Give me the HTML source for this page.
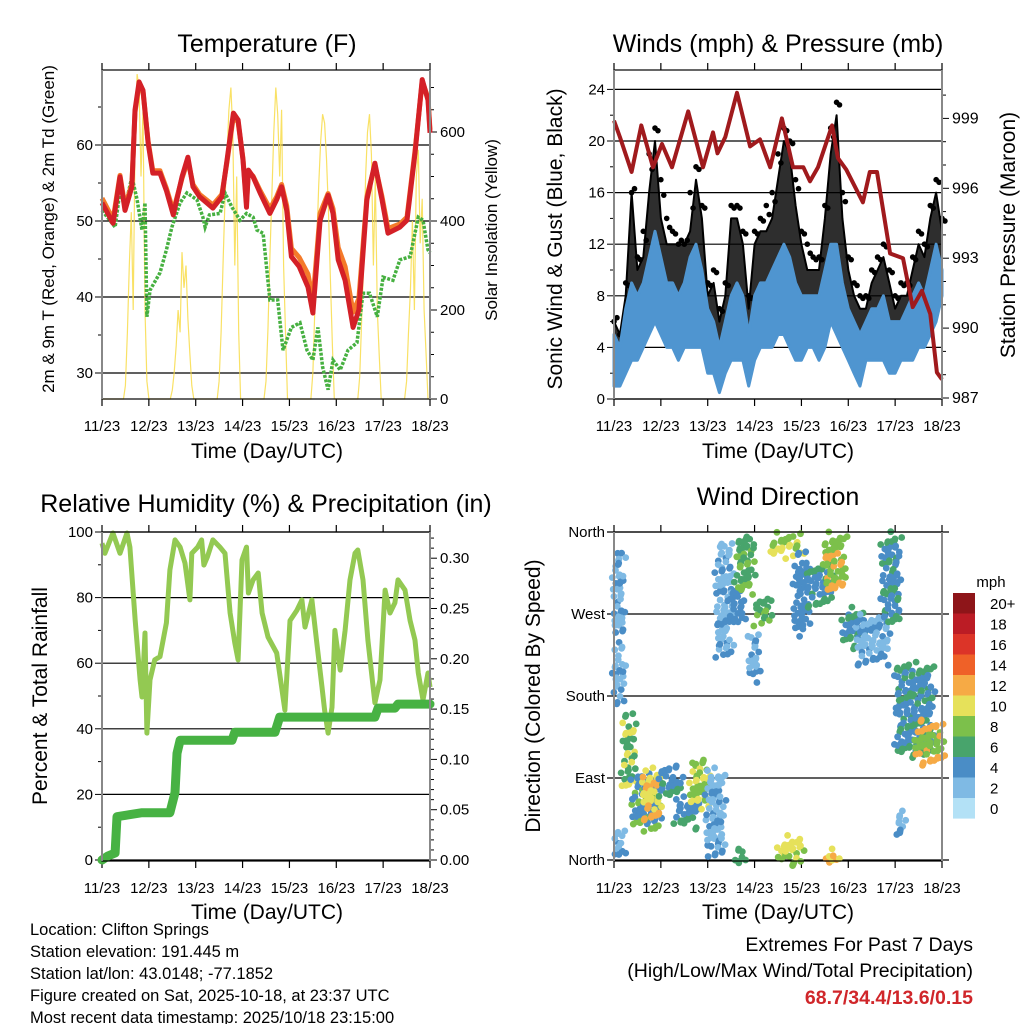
<!DOCTYPE html>
<html><head><meta charset="utf-8"><style>
html,body{margin:0;padding:0;background:#fff;}
svg{display:block;font-family:"Liberation Sans",Arial,sans-serif;}
</style></head><body>
<svg id="root" width="1024" height="1024" viewBox="0 0 1024 1024" xmlns="http://www.w3.org/2000/svg">
<rect x="0" y="0" width="1024" height="1024" fill="#fff"/>
<g font-size="25" text-anchor="middle" fill="#000">
<text x="267" y="52">Temperature (F)</text>
<text x="778" y="52">Winds (mph) &amp; Pressure (mb)</text>
<text x="266" y="512">Relative Humidity (%) &amp; Precipitation (in)</text>
<text x="778" y="505">Wind Direction</text>
</g>
<g font-size="21" text-anchor="middle">
<text x="267" y="458">Time (Day/UTC)</text>
<text x="778" y="458">Time (Day/UTC)</text>
<text x="267" y="919">Time (Day/UTC)</text>
<text x="778" y="919">Time (Day/UTC)</text>
<text transform="translate(562,239) rotate(-90)">Sonic Wind &amp; Gust (Blue, Black)</text>
<text transform="translate(1015,235) rotate(-90)">Station Pressure (Maroon)</text>
<text transform="translate(47,696) rotate(-90)">Percent &amp; Total Rainfall</text>
<text transform="translate(540,696) rotate(-90)">Direction (Colored By Speed)</text>
</g>
<g font-size="17" text-anchor="middle">
<text transform="translate(54,229) rotate(-90)">2m &amp; 9m T (Red, Orange) &amp; 2m Td (Green)</text>
<text transform="translate(497,230) rotate(-90)">Solar Insolation (Yellow)</text>
</g>
<g font-size="16.5">
<text x="30" y="935">Location: Clifton Springs</text>
<text x="30" y="957">Station elevation: 191.445 m</text>
<text x="30" y="979">Station lat/lon: 43.0148; -77.1852</text>
<text x="30" y="1001">Figure created on Sat, 2025-10-18, at 23:37 UTC</text>
<text x="30" y="1023">Most recent data timestamp: 2025/10/18 23:15:00</text>
</g>
<g font-size="19.5" text-anchor="end">
<text x="973" y="951">Extremes For Past 7 Days</text>
<text x="973" y="977">(High/Low/Max Wind/Total Precipitation)</text>
<text x="973" y="1004" fill="#d0262a" font-weight="bold">68.7/34.4/13.6/0.15</text>
</g>
</svg>
<script>
// ---------- data ----------
const dayLabels = ['11/23','12/23','13/23','14/23','15/23','16/23','17/23','18/23'];
const tHours = [0,5.7,9.2,11.8,15.3,16.9,19,21,23.6,26,29.7,33,36.5,41,44,46.6,50,56.8,61.4,64,67.3,69.7,72.2,74,75,77.4,81,86,89.5,92,94.6,97,101,105.5,108,111.7,115.8,118.3,121,124.5,128.6,131.6,135.7,139.8,143.4,146.5,152.6,156.2,160.3,164,167,168];
const t2Values = [52.4,49.7,55.8,51.4,54.5,64.6,68.3,67.2,60.3,56.3,56.3,54,50.8,55.8,58.4,54.5,53.2,51.7,53.2,58,64.2,63.3,58,51.8,56.7,55.8,53.7,51,52.8,54.5,51.4,45.3,44,41.3,37.9,50.1,53.4,51,44.9,42.2,36,38.3,52.8,57.6,52.8,48.4,49.2,50.1,58.9,68.6,65.9,61.6];
const t9Values = [53.0,50.2,56.0,51.9,54.8,64.3,68.0,67.0,60.5,56.6,56.6,54.3,51.3,55.6,58.0,54.8,53.5,52.1,53.5,57.8,63.8,63.0,58.2,52.4,56.5,55.9,54.0,51.6,53.2,54.8,52.0,46.4,45.2,43.0,39.5,51.0,53.6,51.6,46.5,44.0,38.0,39.8,53.2,57.4,53.2,49.0,49.6,50.5,59.2,68.4,66.2,62.0];
const tdHours = [0,6.7,9.2,11.8,15.3,18,20.5,22,23,24.6,29.7,33,35.8,40,43.5,48.6,51.7,52.8,55,60.5,63,66.6,70.7,74,77.4,79.4,82.5,86,90,92.7,97,101.4,105,108,110.6,113,115.8,118.3,122,126,130.6,133.7,137,141,144,149,152.6,157.8,162,164.4,167,168];
const tdValues = [51.4,49.2,54,51.8,55.8,52.8,48.8,52.4,37.4,40.9,43.2,46.2,49.2,52.4,53.7,52.8,50.5,49.2,50.8,51,53.7,51.8,50.1,51,50.5,48.8,48.4,39.6,39.6,33,36,36.6,33,31.7,36,30.8,27.8,31.7,30.4,33,34,40.5,40.5,37.4,42.6,42.2,44.9,45.3,50.5,50.1,46.2,45.8];
const solarHourly = [
 0,0,0,0,0,0,0,0,0,0,0, 0,30,150,300,420,200,600,730,700,500,650,200,40,
 0,0,0,0,0,0,0,0,0,0,0, 0,20,60,120,200,150,330,250,300,180,100,30,0,
 0,0,0,0,0,0,0,0,0,0,0, 0,40,150,300,450,550,650,700,600,300,500,150,0,
 0,0,0,0,0,0,0,0,0,0,0, 0,40,160,320,460,600,700,640,500,650,300,150,0,
 0,0,0,0,0,0,0,0,0,0,0, 0,60,200,350,480,580,640,620,540,420,270,120,0,
 0,0,0,0,0,0,0,0,0,0,0, 0,50,180,300,500,600,640,550,300,500,200,100,0,
 0,0,0,0,0,0,0,0,0,0,0, 0,40,150,250,400,200,500,560,350,450,200,100,0,0];
const presHours = [0,3,9,14,20,24.6,29.7,38,45.6,50.7,53,57,63,69.7,74.8,80,86,91.7,97,100.4,104.5,111.7,114.7,119,127.5,131,134.7,141.4,148,153,157.7,162,165.4,168];
const presValues = [998.9,998.2,996.7,998.7,996.9,997.9,996.9,999.3,996.9,998.4,997.5,998.2,1000.1,997.8,998.1,996.9,999,996.9,996.9,996.3,996.9,998.7,997.3,996.8,995.4,996.7,996.7,993.2,993,990.9,991.6,990.6,988.1,987.8];
const windLo = [1,1,2,3,3,4,5,6,5,4,4,3,4,4,4,4,2,2,0.5,2,3,3,3,1,3,4,4,4,5,5,4,3,3,4,4,3,4,6,5,4,3,2,1,3,3,3,3,2,2,3,3,3,4,4,5,6,8];
const windHi = [5,4,7,9,8,9,11,13,11,9,9,8,9,11,12,10,7,6,4,6,8,9,8,5,8,9,9,10,11,12,11,9,8,8,8,8,10,12,12,9,7,6,5,6,7,7,8,6,6,6,7,8,9,8,10,12,10];
const gustHi = [6,5,8,16,10,11,16,20,14,12,12,12,12,13,17,14,8,9,6,8,14,14,12,7,12,13,13,14,17,20,19,15,12,10,10,10,14,19,22,14,10,8,7,7,9,10,11,9,7,8,8,10,12,11,14,16,13];
const gustMax = [6,5,9,16,11,13,19,21,17,14,13,12,12,16,18,15,9,10,7,9,15,15,13,8,13,14,15,16,19,21,20,17,13,12,11,11,15,21,23,16,11,9,8,8,10,11,12,10,8,9,9,11,13,12,15,17,14];
const rhHours = [0,1.5,5.6,9.2,12.8,14.3,17,19.5,20.5,22,23,24.6,27,29.7,33,34.8,37.4,40,42.5,45,46,49,51,52.2,54,56.8,60.4,63,65.6,68,69.7,71.7,74,75,77.4,80,82,85,89.5,92,93.7,96.3,99.9,102.4,104,107.5,110,112.7,114,115.8,117.8,119.3,122,124.5,127,129.6,131,133.7,136.2,139.8,142.4,145,147.5,150,151.6,155.2,157.8,160.3,162,164.4,167,168];
const rhValues = [96.6,93.5,99.7,93.5,99.7,95.4,73,54.9,49.7,69.2,38.7,54.9,61,62,72.3,88.4,97.6,95.4,90.5,79.3,93.5,95.4,97.6,89.9,92.4,97.6,95.4,93.5,75.3,66.2,61,91.5,95.4,81.4,85.4,87.5,75.3,68,63.1,52.7,45.7,73,76.2,79.3,71,79.3,66.2,52.7,45.7,38.7,46.6,70,57.9,70,85.4,93.5,94.5,85.4,67,47.9,54.9,82.3,75.3,78.4,85.4,82.3,73,67,57,48.8,57,52.7];
const precipHours = [0,3,6.7,7.7,20.5,34.8,37.4,38.4,40,66.6,68,88.6,91,139.8,141.4,150,151.6,168];
const precipValues = [0,0.004,0.007,0.043,0.047,0.047,0.067,0.106,0.119,0.119,0.127,0.127,0.142,0.142,0.151,0.151,0.155,0.155];
const clHour0 = [0.5,0.5,0.5,5,10,15,23.5,32,40,48,53,60,63,70,73,63,80,85,93,99,108,110,118,125,138,145,145,155];
const clHour1 = [4.6,4.6,4.6,10,23,23,34,43,48,56,60,66,71,74,80,66,96,96,99,111,118,114,127,140,146,148,163,168];
const clDeg0 = [245,176,8,80,36,50,73,40,62,10,227,263,296,201,263,0,337,0,250,282,298,0,238,220,263,30,117,110];
const clDeg1 = [340,234,33,161,95,100,102,70,110,100,351,300,359,249,289,12,359,25,337,326,359,8,278,270,359,55,216,153];
const clSpd0 = [2,2,2,6,4,10,4,4,8,2,2,4,6,2,6,6,8,10,4,4,8,10,4,2,4,2,4,8];
const clSpd1 = [4,4,4,10,8,12,6,6,10,4,4,4,8,4,8,6,10,8,4,6,12,12,6,4,6,4,6,12];
const speedBins = ['0','2','4','6','8','10','12','14','16','18','20+'];
const speedColors = ['#b3e1f6','#7fbae4','#4a8dc6','#48a46c','#7cc04b','#e6e15a','#f6aa45','#ef6128','#dc3428','#bb1c25','#8e1519'];

// ---------- scales ----------
const xT = h => 102 + h*328/168;
const xW = h => 614 + h*328/168;
const yTemp = v => 373 - (v-30)*7.6;
const ySol = v => 399 - v*0.445;
const yWind = v => 399 - v*12.9;
const yPres = v => 398 - (v-987)*23.3;
const yRH = v => 860 - v*3.28;
const yPr = v => 860 - v*1006;
const yDir = d => 860 - d*328/360;

const NS = 'http://www.w3.org/2000/svg';
const root = document.getElementById('root');
function mk(tag, attrs, parent){
  const e = document.createElementNS(NS, tag);
  for (const k in attrs) e.setAttribute(k, attrs[k]);
  (parent||root).appendChild(e);
  return e;
}
function pts(hs, vs, fx, fy){ return hs.map((h,i)=>fx(h).toFixed(1)+','+fy(vs[i]).toFixed(1)).join(' '); }

// ---------- panel frames ----------
function frame(x0, y0, name, gridYs, leftTicks, rightTicks, xfn, gridExt){
  const g = mk('g', {});
  
  
  gridYs.forEach(y=>{
    const l = mk('line', {x1:x0-(gridExt||0), x2:x0+328+(gridExt||0), y1:y, y2:y, stroke:'#000', 'stroke-width':1.2}, g);
    
    
  });
  for (let d=0; d<=7; d++){
    const x = xfn(d*24);
    const tb = mk('line', {x1:x, x2:x, y1:y0+329, y2:y0+336, stroke:'#000', 'stroke-width':1.2}, g);
    
    
    const tt = mk('line', {x1:x, x2:x, y1:y0-7, y2:y0, stroke:'#000', 'stroke-width':1.2}, g);
    
    
    const lb = mk('text', {x:x, y:y0+361, 'font-size':15, 'text-anchor':'middle'}, g);
    lb.textContent = dayLabels[d];
    
    
  }
  leftTicks.forEach(t=>{
    const len = t.major ? 7 : 4;
    const l = mk('line', {x1:x0-len, x2:x0, y1:t.y, y2:t.y, stroke:'#000', 'stroke-width':1}, g);
    
    
    if (t.label!==undefined){
      const tx = mk('text', {x:x0-9, y:t.y+5, 'font-size':15, 'text-anchor':'end'}, g);
      tx.textContent = t.label;
      
      
    }
  });
  rightTicks.forEach(t=>{
    const len = t.major ? 7 : 4;
    const l = mk('line', {x1:x0+328, x2:x0+328+len, y1:t.y, y2:t.y, stroke:'#000', 'stroke-width':1}, g);
    
    
    if (t.label!==undefined){
      const tx = mk('text', {x:x0+338, y:t.y+5, 'font-size':t.fs||15, 'text-anchor':'start'}, g);
      tx.textContent = t.label;
      
      
    }
  });
  return g;
}
function box(x0,y0,name){
  const b = mk('rect', {x:x0, y:y0, width:328, height:329, fill:'none', stroke:'#000', 'stroke-width':1.2});
  
  
  const l = mk('line', {x1:x0, x2:x0, y1:y0, y2:y0+329, stroke:'#888', 'stroke-width':2});
  
  
  const r = mk('line', {x1:x0+328, x2:x0+328, y1:y0, y2:y0+329, stroke:'#888', 'stroke-width':2});
  
  
}

let lt=[], rt=[];
for (let v=30; v<=65; v+=5) lt.push({y:yTemp(v), major:v%10===0, label: v%10===0? String(v):undefined});
for (let v=0; v<=700; v+=50) rt.push({y:ySol(v), major:v%200===0, label: v%200===0? String(v):undefined});
frame(102,70,'temp',[30,40,50,60].map(yTemp),lt,rt,xT,0);

lt=[]; rt=[];
for (let v=0; v<=24; v+=2) lt.push({y:yWind(v), major:v%4===0, label:v%4===0?String(v):undefined});
for (let v=987; v<=1000; v+=1) rt.push({y:yPres(v), major:(v-987)%3===0, label:(v-987)%3===0?String(v):undefined, fs:16});
frame(614,70,'wind',[0,4,8,12,16,20,24].map(yWind),lt,rt,xW,0);

lt=[]; rt=[];
for (let v=0; v<=100; v+=10) lt.push({y:yRH(v), major:v%20===0, label:v%20===0?String(v):undefined});
for (let k=0; k<=32; k++){ const v=k/100; rt.push({y:yPr(v), major:k%5===0, label:k%5===0?v.toFixed(2):undefined}); }
frame(102,532,'rh',[0,20,40,60,80,100].map(yRH),lt,rt,xT,0);

const dirLabels = ['North','East','South','West','North'];
lt = [0,90,180,270,360].map((d,i)=>({y:yDir(d), major:true, label:dirLabels[i]}));
frame(614,532,'dir',[0,90,180,270,360].map(yDir),lt,[],xW,7);

// ---------- temperature series ----------
let sol = mk('polyline', {points: pts(solarHourly.map((v,i)=>i), solarHourly, xT, ySol), fill:'none', stroke:'#f8dc4a', 'stroke-width':1.2, 'stroke-opacity':0.85});


let td = mk('polyline', {points: pts(tdHours, tdValues, xT, yTemp), fill:'none', stroke:'#46b040', 'stroke-width':3.5, 'stroke-dasharray':'3 1.5'});


let t9 = mk('polyline', {points: pts(tHours, t9Values, xT, yTemp), fill:'none', stroke:'#f47a2a', 'stroke-width':5, 'stroke-linejoin':'round'});


let t2 = mk('polyline', {points: pts(tHours, t2Values, xT, yTemp), fill:'none', stroke:'#d42027', 'stroke-width':5, 'stroke-linejoin':'round'});



// ---------- wind series ----------
const wH = windLo.map((v,i)=>i*3);
const gustPoly = mk('polygon', {points: pts(wH, gustHi, xW, yWind)+' '+pts(wH.slice().reverse(), windLo.slice().reverse(), xW, yWind), fill:'#000', 'fill-opacity':0.82, stroke:'#000', 'stroke-width':2, 'stroke-linejoin':'round'});


gustMax.forEach((v,i)=>{
  const c = mk('circle', {cx:xW(wH[i]), cy:yWind(v), r:2.8, fill:'#000'});
  
  
  const c2 = mk('circle', {cx:xW(wH[i]+1.5), cy:yWind((v+gustHi[i])/2+0.3), r:2.8, fill:'#000'});
  
  
});
const windPoly = mk('polygon', {points: pts(wH, windHi, xW, yWind)+' '+pts(wH.slice().reverse(), windLo.slice().reverse(), xW, yWind), fill:'#4f95d0', stroke:'#4f95d0', 'stroke-width':3, 'stroke-linejoin':'round'});


const pres = mk('polyline', {points: pts(presHours, presValues, xW, yPres), fill:'none', stroke:'#a01a1d', 'stroke-width':4, 'stroke-linejoin':'round'});



// ---------- RH series ----------
const rh = mk('polyline', {points: pts(rhHours, rhValues, xT, yRH), fill:'none', stroke:'#93c952', 'stroke-width':5, 'stroke-linejoin':'round'});


const pr = mk('polyline', {points: pts(precipHours, precipValues, xT, yPr), fill:'none', stroke:'#47b243', 'stroke-width':9, 'stroke-linejoin':'round', 'stroke-linecap':'round'});



// ---------- direction scatter ----------
const sbin = s => Math.min(10, Math.floor(s/2));
clHour0.forEach((h0,k)=>{
  const h1 = clHour1[k], d0 = clDeg0[k], d1 = clDeg1[k];
  const n = Math.max(3, Math.round((h1-h0)*1.2));
  const m = Math.max(2, Math.round((d1-d0)/10));
  for (let i=0;i<=n;i++){
    for (let j=0;j<m;j++){
      if ((i*5+j*3+k)%4===0) continue;
      const h = h0 + (h1-h0)*i/n;
      const d = d0 + (d1-d0)*((j + 0.5*(i%2))/m);
      const s = ((i*3+j)%3===0) ? clSpd1[k] : clSpd0[k];
      const dx = (((i*37+j*17+k*5)%7)-3)*0.9;
      const dy = (((i*13+j*29+k*7)%9)-4)*1.4;
      const c = mk('circle', {cx:(xW(h)+dx).toFixed(1), cy:(yDir(d)+dy).toFixed(1), r:3.4, fill:speedColors[sbin(s)]});
      
      
    }
  }
});

box(102,70,'temp'); box(614,70,'wind'); box(102,532,'rh'); box(614,532,'dir');

// ---------- colorbar ----------
const cbT = mk('text', {x:991, y:587, 'font-size':15, 'text-anchor':'middle'});
cbT.textContent = 'mph';


speedBins.forEach((lab,i)=>{
  const idx = 10 - i;
  const y = 593 + i*20.5;
  const r = mk('rect', {x:953, y:y, width:22, height:20.6, fill:speedColors[idx]});
  
  
  const t = mk('text', {x:990, y:y+16, 'font-size':15, 'text-anchor':'start'});
  t.textContent = speedBins[idx];
  
  
});
</script>
</body></html>
